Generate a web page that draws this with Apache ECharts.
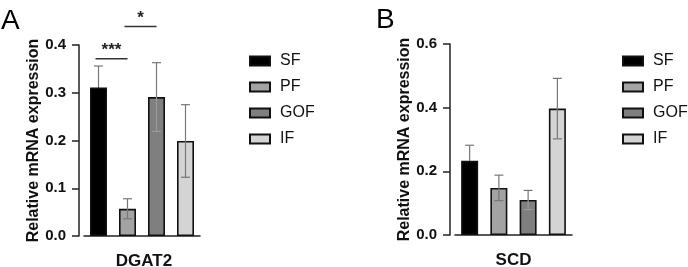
<!DOCTYPE html>
<html>
<head>
<meta charset="utf-8">
<script src="https://cdn.jsdelivr.net/npm/echarts@6/dist/echarts.min.js"></script>
<style>
  html, body { margin: 0; padding: 0; background: #fff; }
  #box { width: 688px; height: 267px; }
</style>
</head>
<body>
<div id="box"></div>
<script>
// groups
const categories = ['SF', 'PF', 'GOF', 'IF'];

// DGAT2 (panel A)
const dgat2Mean = [0.311, 0.057, 0.291, 0.199];
const dgat2Err = [0.045, 0.021, 0.072, 0.076];
// significance: [from group, to group, line height, label]
const dgat2Sig = [[0, 1, 0.371, '***'], [1, 2, 0.439, '*']];

// SCD (panel B)
const scdMean = [0.233, 0.148, 0.110, 0.397];
const scdErr = [0.049, 0.040, 0.030, 0.095];

const yTicksA = [0, 0.1, 0.2, 0.3, 0.4];
const yTicksB = [0, 0.2, 0.4, 0.6];

const barColors = ['#000000', '#a3a3a3', '#7f7f7f', '#d4d4d4'];
const lowWhisker = ['#000000', '#777777', '#9a9a9a', '#777777'];
const FONT = "'Liberation Sans', Arial, sans-serif";

const chartDom = document.getElementById('box');
const myChart = echarts.init(chartDom);

function barSeries(panel, mean) {
  return categories.map((name, i) => ({
    name: name,
    type: 'bar',
    xAxisIndex: panel,
    yAxisIndex: panel,
    barWidth: 17,
    barGap: '-100%',
    data: mean.map((v, j) => (j === i ? v : '-')),
    itemStyle: { color: barColors[i], borderColor: '#111', borderWidth: 1.6 }
  }));
}

function errSeries(panel, mean, err) {
  return {
    type: 'custom',
    xAxisIndex: panel,
    yAxisIndex: panel,
    z: 5,
    silent: true,
    data: mean.map((m, i) => [i, m, err[i]]),
    encode: { x: 0, y: 1 },
    renderItem: function (params, api) {
      const i = api.value(0), m = api.value(1), e = api.value(2);
      const c = api.coord([i, m]);
      const t = api.coord([i, m + e]);
      const b = api.coord([i, m - e]);
      const hw = 4.5;
      const up = { stroke: '#777', lineWidth: 1.2 };
      const lo = { stroke: lowWhisker[i], lineWidth: 1.2 };
      return {
        type: 'group',
        children: [
          { type: 'line', shape: { x1: c[0], y1: c[1], x2: t[0], y2: t[1] }, style: up },
          { type: 'line', shape: { x1: t[0] - hw, y1: t[1], x2: t[0] + hw, y2: t[1] }, style: up },
          { type: 'line', shape: { x1: c[0], y1: c[1], x2: b[0], y2: b[1] }, style: lo },
          { type: 'line', shape: { x1: b[0] - hw, y1: b[1], x2: b[0] + hw, y2: b[1] }, style: lo }
        ]
      };
    }
  };
}

const sigSeries = {
  type: 'custom',
  xAxisIndex: 0,
  yAxisIndex: 0,
  silent: true,
  clip: false,
  data: dgat2Sig.map(s => [s[0], s[1], s[2]]),
  renderItem: function (params, api) {
    const s = dgat2Sig[params.dataIndex];
    const p1 = api.coord([s[0], s[2]]);
    const p2 = api.coord([s[1], s[2]]);
    return {
      type: 'group',
      children: [
        { type: 'line', shape: { x1: p1[0] - 3, y1: p1[1], x2: p2[0], y2: p2[1] },
          style: { stroke: '#333', lineWidth: 1.5 } },
        { type: 'text', x: (p1[0] - 3 + p2[0]) / 2, y: p1[1],
          style: { text: s[3], fill: '#222', font: 'bold 17px ' + FONT,
                   align: 'center', verticalAlign: 'bottom' } }
      ]
    };
  }
};

function xAxisOf(grid, name, pad) {
  return {
    type: 'category',
    gridIndex: grid,
    data: categories,
    name: name,
    nameLocation: 'middle',
    nameGap: 17,
    nameTextStyle: { fontFamily: FONT, fontWeight: 'bold', fontSize: 17, color: '#111',
                     padding: pad, verticalAlign: 'top' },
    axisLine: { lineStyle: { color: '#222', width: 1.5 } },
    axisTick: { alignWithLabel: true, length: 7, lineStyle: { color: '#222', width: 1.5 } },
    axisLabel: { show: false }
  };
}

function yAxisOf(grid, ticks) {
  return {
    type: 'value',
    gridIndex: grid,
    min: ticks[0],
    max: ticks[ticks.length - 1],
    interval: ticks[1] - ticks[0],
    offset: 5,
    name: 'Relative mRNA expression',
    nameLocation: 'middle',
    nameGap: 37,
    nameTextStyle: { fontFamily: FONT, fontWeight: 'bold', fontSize: 16, color: '#111' },
    axisLine: { show: true, lineStyle: { color: '#222', width: 1.5 } },
    axisTick: { show: true, length: 7, lineStyle: { color: '#222', width: 1.5 } },
    axisLabel: { fontFamily: FONT, fontWeight: 'bold', fontSize: 15, color: '#111', margin: 13,
                 formatter: v => v.toFixed(1) },
    splitLine: { show: false }
  };
}

function legendOf(left) {
  return {
    orient: 'vertical',
    left: left,
    top: 53,
    padding: 0,
    data: categories,
    icon: 'rect',
    itemWidth: 20,
    itemHeight: 9,
    itemGap: 10,
    selectedMode: false,
    textStyle: { fontFamily: FONT, fontSize: 16, color: '#111', lineHeight: 16, padding: [0, 0, 0, 5] }
  };
}

var option = {
  animation: false,
  backgroundColor: '#fff',
  textStyle: { fontFamily: FONT },
  grid: [
    { left: 84, top: 45, width: 116, bottom: 31, outerBoundsMode: 'none' },
    { left: 455, top: 44, width: 117, bottom: 32, outerBoundsMode: 'none' }
  ],
  xAxis: [xAxisOf(0, 'DGAT2', [0, 0, 0, 4]), xAxisOf(1, 'SCD', [0, 0, 0, 0])],
  yAxis: [yAxisOf(0, yTicksA), yAxisOf(1, yTicksB)],
  legend: [legendOf(249), legendOf(622)],
  graphic: [
    { type: 'text', left: 1, top: 7, style: { text: 'A', font: '28px ' + FONT, fill: '#000' } },
    { type: 'text', left: 376, top: 6, style: { text: 'B', font: '28px ' + FONT, fill: '#000' } }
  ],
  series: [].concat(
    barSeries(0, dgat2Mean),
    barSeries(1, scdMean),
    [errSeries(0, dgat2Mean, dgat2Err), errSeries(1, scdMean, scdErr), sigSeries]
  )
};

option && myChart.setOption(option);
window.addEventListener('resize', function () {
  if (myChart) {
    myChart.resize();
  }
});
</script>
</body>
</html>
